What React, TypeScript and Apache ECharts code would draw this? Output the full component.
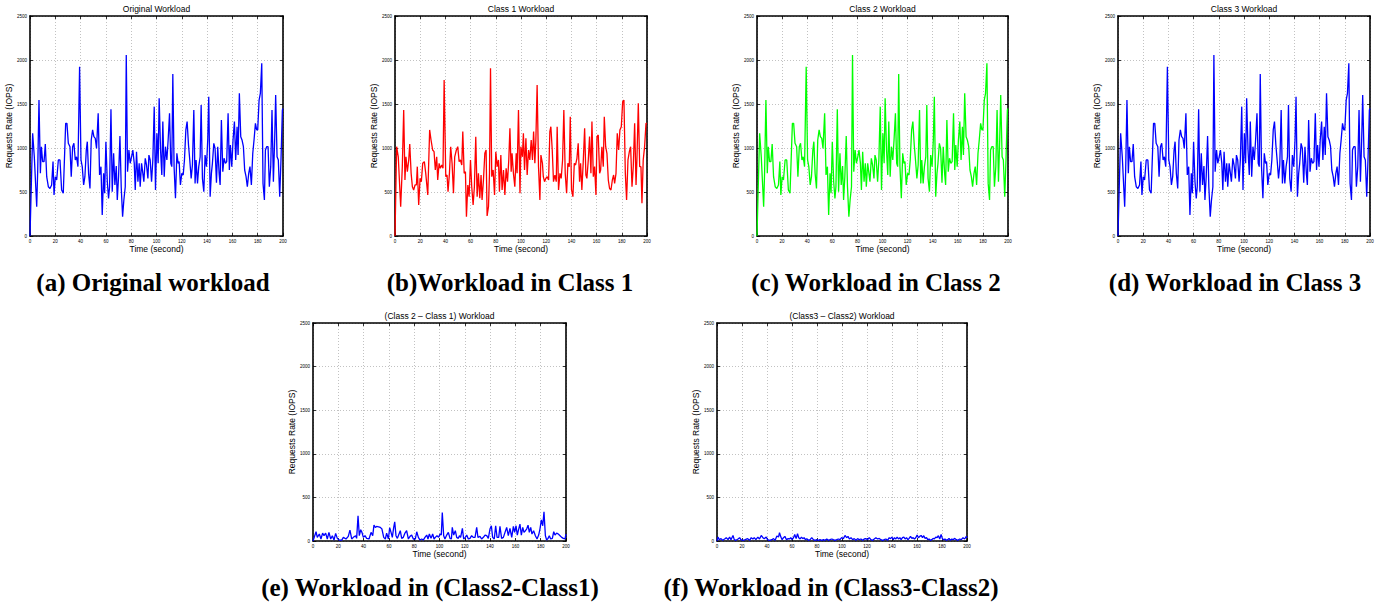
import React, { useEffect, useRef } from "react";
import * as echarts from "echarts";

// ---- data ----
const timeOriginal = [0,2.1,3.4,5.3,6.1,7.1,8.2,9,10,11.1,12.1,13.2,14.5,15.8,17.1,18.2,19,20,21.1,22.4,23.7,25,26.3,28.2,29.2,30.3,31.6,32.6,33.7,34.7,35.8,36.8,37.9,39.2,40.3,41.3,42.4,43.4,44.5,45.3,46.3,47.4,48.4,49.5,50.5,51.6,52.6,53.9,55,56.1,57.1,58.2,59,60,61.1,62.1,62.9,64,65,66.1,67.1,68.2,69,70,71.1,72.1,73.2,74.2,75.3,76.1,77.1,78.2,79.2,80.3,81.3,82.4,83.2,84.2,85.3,86.3,87.1,88.2,89.2,90,91.1,92.1,93.2,94,95,96.1,97.1,98.2,99.2,100.3,101.3,102.1,103.2,104.2,105,106.1,107.1,108.2,109.2,110.3,111.3,112.1,112.9,113.9,115,116.1,117.1,117.9,118.9,120,121.1,122.1,123.2,124.2,125.3,126.3,127.4,128.4,129.5,130.5,131.3,132.4,133.4,134.5,135.3,136.3,137.4,138.4,139.5,140.5,141.3,142.4,143.4,144.2,145.3,146.3,147.4,148.4,149.5,150.3,151.3,152.4,153.4,154.5,155.5,156.6,157.6,158.4,159.5,160.5,161.6,162.6,163.7,164.5,165.5,166.6,167.6,168.7,169.7,170.8,171.8,172.9,173.9,175,176.1,177.1,178.2,179.2,180,181.1,182.1,183.2,184.2,185.3,186.1,187.1,188.2,189.2,190.3,191.3,192.4,193.4,194.2,195.3,196.3,197.4,198.4,199.5,200];
const rateOriginal = [0,1167,900,333,750,1545,712,1015,845,845,1045,674,560,540,580,845,466,674,636,864,864,523,485,1280,1280,1053,1015,674,1015,1053,864,900,788,1924,864,788,580,674,977,1072,712,540,1091,1205,1129,1110,996,1394,693,788,239,712,485,1072,617,428,560,1440,504,940,580,795,409,674,1136,560,220,409,560,2057,731,977,826,900,977,826,523,958,617,826,560,826,712,617,883,807,655,920,864,617,864,1470,523,1167,826,1565,977,693,1300,674,1015,864,1091,1394,826,788,1841,788,428,940,826,845,580,712,693,864,1205,1300,1034,864,655,807,1432,598,864,598,788,900,1489,655,504,920,788,1091,1583,447,712,826,1053,996,606,1015,712,580,1318,731,883,826,845,1394,750,1034,788,1091,1300,864,1242,920,1621,1129,1091,1015,750,674,560,712,788,580,940,1091,1280,1205,1205,1545,1621,1962,598,409,977,1015,1015,560,788,1432,617,1091,1602,900,864,447,864,1432,1450];

const timeClass1 = [0,1.3,2.6,4.5,5.8,6.9,7.9,8.7,9.8,10.9,11.7,12.8,13.8,14.8,15.9,17,17.7,18.8,19.9,20.9,22,23.3,24.4,26,27.5,28.6,29.9,31,32,33.1,33.9,35,36,37.1,38.1,39,40.3,41.3,42.1,43.2,44.2,45.3,46.4,47.4,48.7,49.8,50.9,51.9,53,53.8,54.9,55.9,56.7,57.8,58.8,59.9,60.9,62,63,64.1,65.2,66.2,67.3,68.3,69.1,70.2,71.3,72.3,73.1,74.2,75,75.8,76.8,77.9,79,80,81.1,82.1,82.9,84,85,86.1,87.2,88.2,89.3,90.3,91.2,92.2,92.9,94,95.1,96.2,96.9,98,99.2,99.9,101.1,101.9,102.8,103.9,104.9,106,107,108.1,109.1,110,111,111.8,112.8,113.9,115,115.8,117,117.7,118.7,119.7,120.8,121.9,122.9,123.7,124.8,125.8,126.9,128,128.7,129.8,130.9,131.9,133,134,135.1,136.2,137.2,138.3,139.1,140.1,141.2,142.3,143.3,144.4,145.4,146.5,147.3,148.3,149.4,150.5,151.5,152.3,153.4,154.4,155.5,156.3,157.4,158.4,159.5,160.3,161.3,162.4,163.2,164.2,165.3,166.1,167.2,168.2,169.3,170.3,171.4,172.5,173.5,174.3,175.4,176.4,177.5,178.5,179.6,180.7,181.7,182.8,183.8,184.9,186,187,188.1,189.1,190.2,191.3,192,193.1,194.2,195.2,196,197,198.1,199.2,200];
const rateClass1 = [0,1015,900,333,788,1432,636,900,731,864,1045,712,560,523,580,580,788,352,655,617,826,845,712,466,1205,1091,977,958,750,900,636,826,769,807,769,1773,674,693,504,712,1015,826,485,900,977,1015,845,864,807,1186,712,731,220,580,447,864,560,352,560,1129,447,712,428,693,409,636,940,977,227,333,712,1905,674,750,466,958,788,864,504,920,523,750,466,769,617,864,1224,731,940,712,560,940,712,1432,485,1015,900,1167,750,1110,693,977,864,1091,864,1186,826,1091,1716,788,409,920,826,674,617,655,674,636,1186,1242,977,617,693,617,1242,523,712,655,864,1432,712,485,826,788,1356,523,447,826,807,883,1053,617,826,523,845,1224,693,655,864,1129,712,1300,674,788,466,1129,1148,712,750,1015,788,1356,1015,940,636,540,523,636,693,598,712,1167,977,1205,1242,1527,1545,712,409,864,958,1015,560,788,1280,580,864,1508,788,788,371,864,1015,1280,1280];

const timeDiff21 = [0,2.4,3.4,5,6.3,7.6,8.7,10,11.3,12.6,14,15.3,16.6,17.9,19.2,20.6,22.7,24,26.1,27.9,29.2,30.6,31.9,33.7,34.5,35.6,36.6,37.7,38.7,39.8,41.1,42.4,44.3,45.9,47.2,48.2,49.3,50.3,51.9,53.2,54.5,55.9,57.2,58.2,59.6,60.6,61.7,62.7,63.8,64.6,65.6,66.7,67.7,69,70.1,71.4,72.7,74,75.4,76.7,78,79.3,80.9,82,83.3,84.6,85.9,87.2,88.5,89.9,90.9,92,93.3,94.6,95.7,96.7,98,99.3,100.4,101.4,102.2,103.3,104.3,105.7,107,108.3,109.4,110.1,111.2,112.5,113.6,114.9,115.7,116.7,118.1,119.1,120.4,121.5,122.8,124.1,125.4,126.7,128.1,129.4,130.4,132,133.3,134.7,136,137.3,138.6,139.9,141,142,143.3,144.4,145.5,146.8,147.8,149.1,150.5,151.8,153.1,154.4,155.7,157.1,158.4,159.4,160.5,161.5,162.6,163.6,164.7,165.8,166.8,167.9,168.9,170,171,172.1,173.1,174.4,175.8,177.1,178.4,179.4,180.5,181.6,182.6,183.7,184.7,185.8,186.8,187.9,189.2,190.3,191.3,192.6,193.9,195.3,196.6,197.9,199.2,200];
const rateDiff21 = [0,106,42,80,23,91,61,91,23,99,23,61,11,87,30,11,11,42,23,53,125,23,42,61,30,289,61,129,99,42,61,30,23,99,61,182,156,167,163,156,137,42,23,91,23,152,99,42,156,220,61,30,68,118,30,42,91,118,23,53,68,23,23,106,42,11,23,11,42,68,23,80,30,80,23,42,61,42,80,68,327,61,23,68,99,30,23,156,68,118,42,30,61,42,144,23,42,68,23,30,61,42,42,156,42,53,23,42,68,61,30,137,175,42,23,175,42,42,167,30,42,99,156,61,144,42,167,99,175,68,137,194,68,156,99,118,137,182,99,156,80,118,61,23,68,137,243,175,334,61,11,30,61,23,30,106,68,91,80,61,42,30,23,80];

const timeDiff32 = [0,0.8,1.9,3.2,4.5,6.1,7.4,8.8,10.1,11.2,12.8,13.8,15.2,16.8,18.1,19.1,20.7,22.6,24.5,26.1,27.4,28.7,29.8,31.1,32.7,34,35.4,36.7,37.8,39.4,40.4,42,43.9,45.2,46.5,47.9,49.2,50,51.1,52.1,53.2,54.3,55.6,56.9,58,59,60.1,61.2,62.2,63.3,64.4,65.4,66.5,67.6,68.6,69.7,70.7,71.8,73.1,74.5,75.8,77.1,78.5,79.8,81.1,82.4,83.8,85.1,86.4,87.8,89.1,90.4,91.8,93.1,94.4,95.7,97.1,98.4,99.7,101.1,102.4,103.7,104.8,105.9,107.2,108.5,109.8,111.2,112.5,113.8,115.2,116.5,117.8,119.1,120.5,121.8,123.1,124.5,125.8,127.1,128.5,129.8,131.1,132.4,133.8,135.1,136.4,137.8,138.8,139.9,141,142,143.1,144.1,145.2,146.3,147.3,148.4,149.5,150.5,151.6,152.7,153.7,154.8,155.9,156.9,158,159,160.1,161.2,162.2,163.3,164.4,165.4,166.5,167.6,168.6,169.7,170.7,171.8,172.9,173.9,175,176.1,177.1,178.2,179.3,180.3,181.4,182.4,183.5,184.6,185.6,186.7,187.8,188.8,190.2,191.5,192.8,194.1,195.5,196.8,198.1,199.5,200];
const rateDiff32 = [0,45,15,27,8,23,38,15,45,15,64,15,8,23,38,15,8,15,27,8,38,23,38,15,45,23,64,38,27,45,15,8,15,27,8,57,45,95,45,15,38,53,15,27,23,38,15,38,76,27,83,38,23,45,27,38,15,27,8,15,38,15,8,15,8,15,8,15,8,23,8,15,23,15,8,15,23,15,38,27,64,38,53,23,38,15,27,8,27,15,23,8,23,27,15,38,15,8,23,38,23,30,15,8,15,23,8,38,27,45,15,38,23,45,23,38,15,38,45,23,38,15,30,53,30,38,23,38,68,38,53,64,38,61,30,38,15,23,8,15,30,23,45,38,61,23,76,27,15,23,8,15,30,8,23,15,30,15,8,23,15,38,23,53,38];

const xTickValues = [0, 20, 40, 60, 80, 100, 120, 140, 160, 180, 200];
const yTickValues = [0, 500, 1000, 1500, 2000, 2500];

const panelTitles = [
  "Original Workload",
  "Class 1 Workload",
  "Class 2 Workload",
  "Class 3 Workload",
  "(Class 2 \u2013 Class 1) Workload",
  "(Class3 \u2013 Class2) Workload",
];
const captions = [
  "(a) Original workload",
  "(b)Workload in Class 1",
  "(c) Workload in Class 2",
  "(d) Workload in Class 3",
  "(e) Workload in (Class2-Class1)",
  "(f) Workload in (Class3-Class2)",
];
const xAxisName = "Time (second)";
const yAxisName = "Requests Rate (IOPS)";

// series per panel (class 2 and class 3 are visually identical to the original)
const panelTimes = [timeOriginal, timeClass1, timeOriginal, timeOriginal, timeDiff21, timeDiff32];
const panelRates = [rateOriginal, rateClass1, rateOriginal, rateOriginal, rateDiff21, rateDiff32];

// ---- layout ----
const W = 1383;
const H = 605;
const layout = [
  { left: 30, top: 16, width: 253, height: 220, color: "#0000ff", capX: 153, capY: 282 },
  { left: 395, top: 16, width: 252, height: 220, color: "#ff0000", capX: 510, capY: 282 },
  { left: 757, top: 16, width: 251, height: 220, color: "#00ff00", capX: 876, capY: 282 },
  { left: 1118, top: 16, width: 252, height: 220, color: "#0000ff", capX: 1235, capY: 282 },
  { left: 313, top: 323, width: 253, height: 218, color: "#0000ff", capX: 430, capY: 587 },
  { left: 717, top: 323, width: 250, height: 218, color: "#0000ff", capX: 831, capY: 587 },
];

const SANS = "'Liberation Sans', Arial, Helvetica, sans-serif";
const SERIF = "'Liberation Serif', 'Times New Roman', serif";

function buildOption() {
  const grid: any[] = [];
  const xAxis: any[] = [];
  const yAxis: any[] = [];
  const series: any[] = [];
  const graphic: any[] = [];
  const xMin = xTickValues[0];
  const xMax = xTickValues[xTickValues.length - 1];
  const xInt = xTickValues[1] - xTickValues[0];
  const yMin = yTickValues[0];
  const yMax = yTickValues[yTickValues.length - 1];
  const yInt = yTickValues[1] - yTickValues[0];
  const frame = { onZero: false, lineStyle: { color: "#000", width: 1.6 } };
  const tick = { inside: true, length: 3, lineStyle: { color: "#000", width: 0.8 } };
  const grid2 = { show: true, lineStyle: { color: "#a8a8a8", width: 0.7, type: [1, 2] } };
  const plain = (v: number) => String(v);

  layout.forEach((p, i) => {
    grid.push({ left: p.left, top: p.top, width: p.width, height: p.height, containLabel: false, show: false });
    xAxis.push({
      type: "value", gridIndex: i, position: "bottom", min: xMin, max: xMax, interval: xInt,
      axisLine: frame, axisTick: tick, splitLine: grid2,
      axisLabel: { fontSize: 4.5, color: "#000", margin: 3, fontFamily: SANS, formatter: plain },
      name: xAxisName, nameLocation: "middle", nameGap: 7,
      nameTextStyle: { fontSize: 8.5, color: "#000", fontFamily: SANS },
    });
    xAxis.push({
      type: "value", gridIndex: i, position: "top", min: xMin, max: xMax, interval: xInt,
      axisLine: frame, axisTick: tick, splitLine: { show: false }, axisLabel: { show: false },
    });
    yAxis.push({
      type: "value", gridIndex: i, position: "left", min: yMin, max: yMax, interval: yInt,
      axisLine: frame, axisTick: tick, splitLine: grid2,
      axisLabel: { fontSize: 4.5, color: "#000", margin: 3, fontFamily: SANS, formatter: plain },
      name: yAxisName, nameLocation: "middle", nameGap: 14,
      nameTextStyle: { fontSize: 8.5, color: "#000", fontFamily: SANS },
    });
    yAxis.push({
      type: "value", gridIndex: i, position: "right", min: yMin, max: yMax, interval: yInt,
      axisLine: frame, axisTick: tick, splitLine: { show: false }, axisLabel: { show: false },
    });
    const ts = panelTimes[i];
    const vs = panelRates[i];
    series.push({
      type: "line", xAxisIndex: 2 * i, yAxisIndex: 2 * i,
      data: ts.map((t, k) => [t, vs[k]]),
      showSymbol: false, symbol: "none",
      lineStyle: { color: p.color, width: 1.3 }, itemStyle: { color: p.color },
      clip: true,
    });
    graphic.push({
      type: "text", x: p.left + p.width / 2, y: p.top - 7,
      style: { text: panelTitles[i], fill: "#000", font: `8.5px ${SANS}`, textAlign: "center", textVerticalAlign: "middle" },
    });
    graphic.push({
      type: "text", x: p.capX, y: p.capY,
      style: { text: captions[i], fill: "#000", font: `bold 25px ${SERIF}`, textAlign: "center", textVerticalAlign: "middle" },
    });
  });

  return { animation: false, backgroundColor: "#fff", grid, xAxis, yAxis, series, graphic };
}

export default function App() {
  const ref = useRef<HTMLDivElement>(null);
  useEffect(() => {
    if (!ref.current) return;
    const chart = echarts.init(ref.current, undefined, { renderer: "svg", width: W, height: H });
    chart.setOption(buildOption());
    return () => chart.dispose();
  }, []);
  return <div ref={ref} style={{ position: "absolute", left: 0, top: 0, width: W, height: H }} />;
}
